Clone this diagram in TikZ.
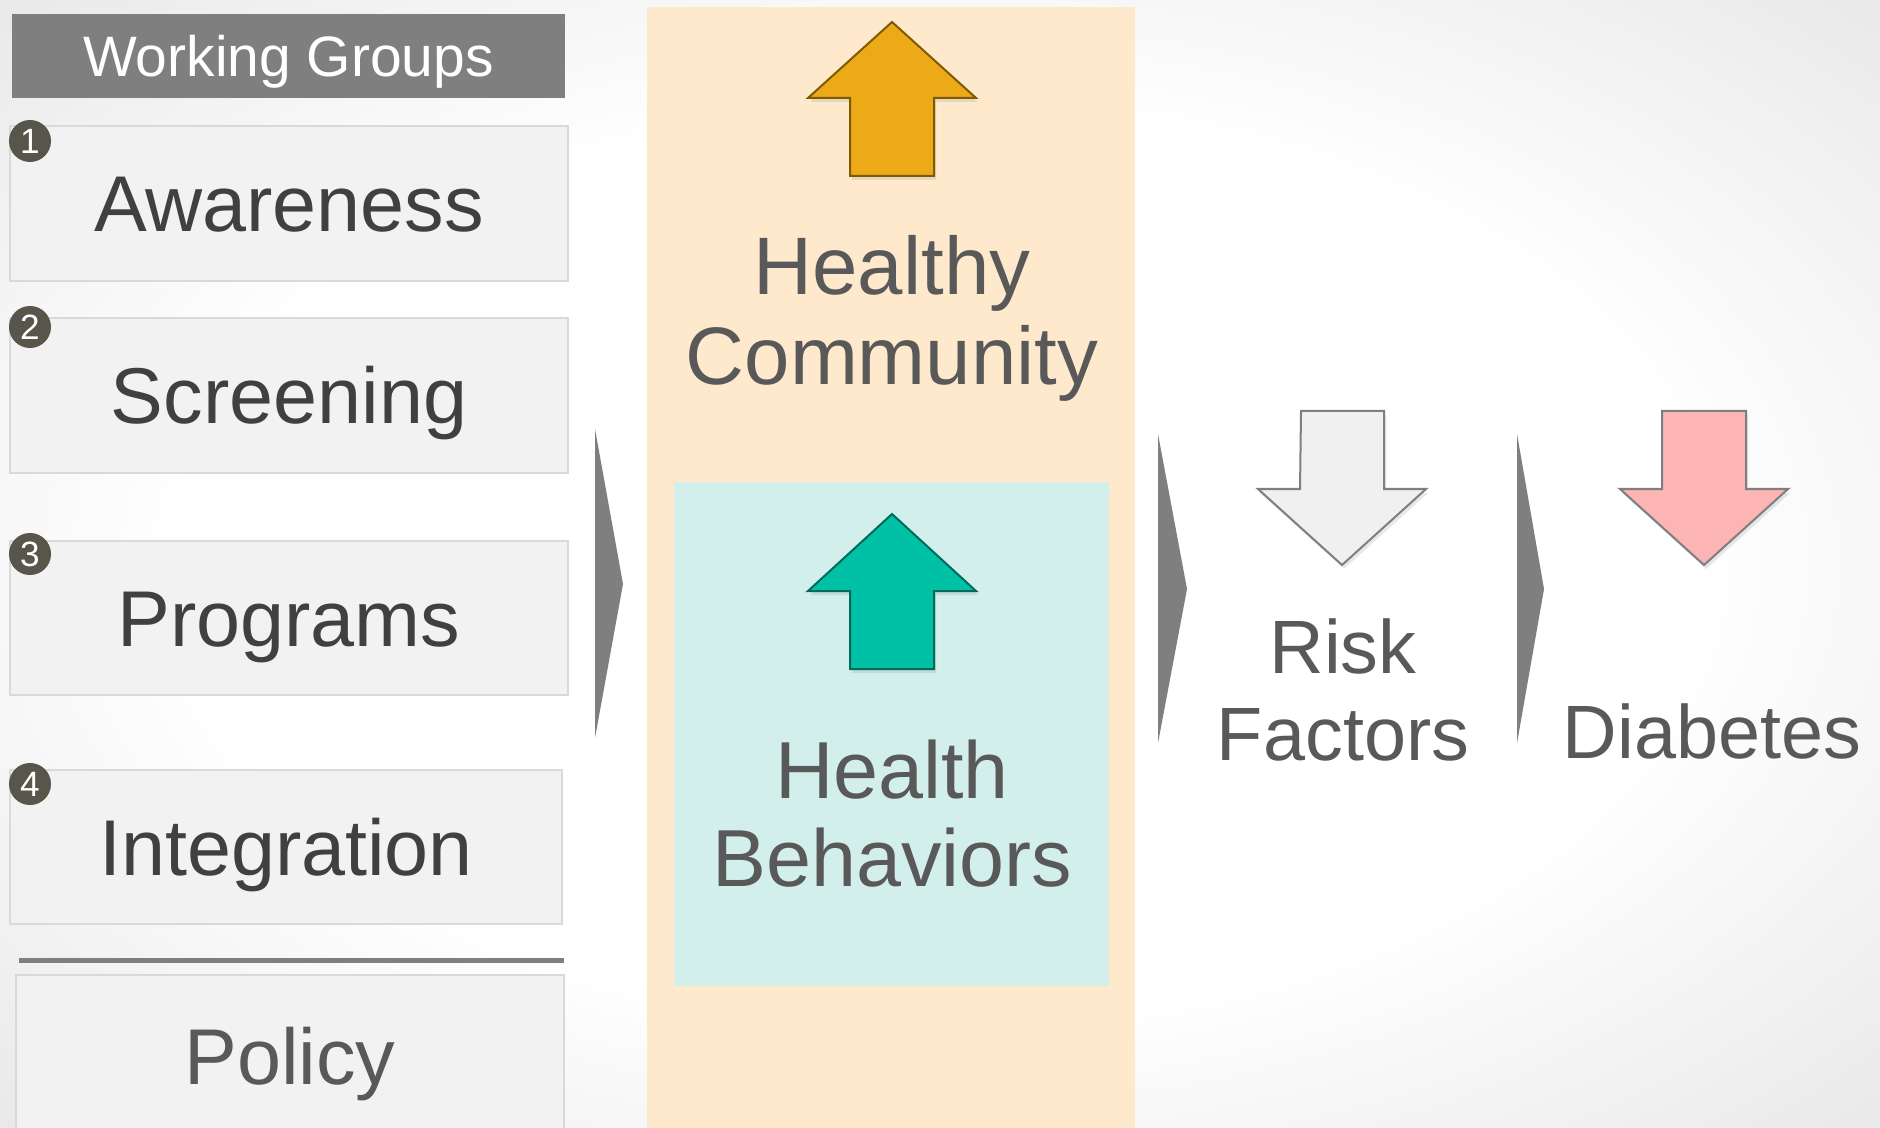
\documentclass[tikz,border=0pt]{standalone}
\usepackage{fontspec}
\setmainfont{Liberation Sans}
\usetikzlibrary{shadows}

\definecolor{hdgray}{HTML}{7F7F7F}
\definecolor{boxfill}{HTML}{F2F2F2}
\definecolor{boxline}{HTML}{D9D9D9}
\definecolor{dotfill}{HTML}{58554A}
\definecolor{txtdark}{HTML}{404040}
\definecolor{txtgray}{HTML}{595959}
\definecolor{colorange}{HTML}{FEE9CC}
\definecolor{colteal}{HTML}{D2EFEC}
\definecolor{arrorange}{HTML}{EDAA18}
\definecolor{arrorangeline}{HTML}{7F5A00}
\definecolor{arrteal}{HTML}{00C0A6}
\definecolor{arrtealline}{HTML}{006B5A}
\definecolor{arrlight}{HTML}{F0F0F0}
\definecolor{arrpink}{HTML}{FDB4B4}

\pgfdeclareradialshading{bgfade}{\pgfpoint{0bp}{0bp}}{color(0bp)=(white); color(20bp)=(white); color(50bp)=(black!17); color(70bp)=(black!20)}

\begin{document}
\begin{tikzpicture}[x=0.01cm, y=-0.01cm,
    wgbox/.style = {draw=boxline, line width=0.02cm, fill=boxfill, minimum width=5.58cm, minimum height=1.54cm,
                    inner sep=0pt, text=txtdark, font=\fontsize{22.5}{27}\selectfont, text height=16.1pt, text depth=0pt},
    numdot/.style = {circle, fill=dotfill, minimum size=0.42cm, inner sep=0pt, text=white, font=\fontsize{10}{11}\selectfont},
    chev/.style = {fill=hdgray},
    bigarrow/.style = {line width=0.02cm, drop shadow={shadow xshift=0.02cm, shadow yshift=-0.04cm, opacity=0.18}},
    stage/.style = {align=center, text=txtgray}]

  % background
  \shade[shading=bgfade] (0,0) rectangle (1880,1128);
  \useasboundingbox (0,0) rectangle (1880,1128);

  % working groups
  \node[fill=hdgray, minimum width=5.53cm, minimum height=0.84cm, inner sep=0pt, text=white,
        font=\fontsize{16.2}{18}\selectfont, text height=11.6pt, text depth=0pt] (head) at (288.5,56) {Working Groups};
  \node[wgbox] (aware) at (289,203.5) {Awareness};
  \node[wgbox] (screen) at (289,395.5) {Screening};
  \node[wgbox] (prog) at (289,618) {Programs};
  \node[wgbox, minimum width=5.52cm] (integ) at (286,847) {Integration};
  \draw[hdgray, line width=0.05cm] (19,960) -- (564,960);
  \node[wgbox, minimum width=5.48cm, minimum height=1.62cm, text=txtgray] (policy) at (290,1056) {Policy};
  \node[numdot] (n1) at (30,141) {1};
  \node[numdot] (n2) at (30,327) {2};
  \node[numdot] (n3) at (30,554) {3};
  \node[numdot] (n4) at (30,784) {4};

  % chevrons
  \fill[chev] (595,429) -- (623,584) -- (595,738) -- cycle;
  \fill[chev] (1158,434) -- (1187,589) -- (1158,743) -- cycle;
  \fill[chev] (1517,434) -- (1544,589) -- (1517,743) -- cycle;

  % community column
  \fill[colorange] (647,7) rectangle (1135,1135);
  \fill[colteal] (674,482) rectangle (1109,986);
  \filldraw[bigarrow, fill=arrorange, draw=arrorangeline]
    (892,22) -- ++(84,76) -- ++(-42,0) -- ++(0,78) -- ++(-84,0) -- ++(0,-78) -- ++(-42,0) -- cycle;
  \filldraw[bigarrow, fill=arrteal, draw=arrtealline]
    (892,514) -- ++(84,77) -- ++(-42,0) -- ++(0,78) -- ++(-84,0) -- ++(0,-78) -- ++(-42,0) -- cycle;
  \node[stage, font=\fontsize{23.2}{25.6}\selectfont] (comm) at (892,318) {Healthy\\Community};
  \node[stage, font=\fontsize{23}{25}\selectfont] (behav) at (892,814) {Health\\Behaviors};

  % outcomes
  \filldraw[bigarrow, fill=arrlight, draw=hdgray]
    (1301,411) -- ++(83,0) -- ++(0,78) -- ++(42,0) -- ++(-84,76) -- ++(-84,-76) -- ++(42,0) -- cycle;
  \filldraw[bigarrow, fill=arrpink, draw=hdgray]
    (1662,411) -- ++(84,0) -- ++(0,78) -- ++(42,0) -- ++(-84,76) -- ++(-84,-76) -- ++(42,0) -- cycle;
  \node[stage, font=\fontsize{21.5}{24.8}\selectfont] (risk) at (1343,690) {Risk\\Factors};
  \node[stage, font=\fontsize{21.5}{24.8}\selectfont] (diab) at (1712,731) {Diabetes};
\end{tikzpicture}
\end{document}
